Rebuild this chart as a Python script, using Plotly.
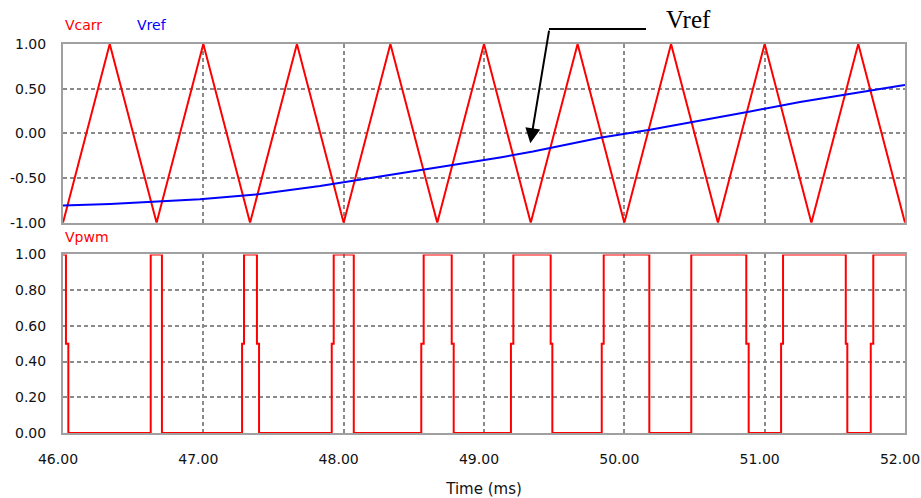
import plotly.graph_objects as go
from plotly.subplots import make_subplots

# ---- data ----
carrier_t = [46.0, 46.333, 46.667, 47.0, 47.333, 47.667, 48.0, 48.333, 48.667,
             49.0, 49.333, 49.667, 50.0, 50.333, 50.667, 51.0, 51.333, 51.667, 52.0]
carrier_v = [-1, 1, -1, 1, -1, 1, -1, 1, -1, 1, -1, 1, -1, 1, -1, 1, -1, 1, -1]

vref_t = [46.0, 46.335, 46.976, 47.404, 47.831, 48.401, 48.758, 49.114, 49.349,
          49.591, 49.827, 50.183, 50.539, 50.896, 51.252, 51.608, 51.964, 52.0]
vref_v = [-0.807, -0.790, -0.738, -0.680, -0.590, -0.446, -0.364, -0.270, -0.204,
          -0.125, -0.050, 0.040, 0.140, 0.245, 0.350, 0.445, 0.533, 0.540]

# PWM edges (ms): falling edges 1 -> 0.5 -> 0, rising edges 0 -> 0.5 -> 1
pwm_fall_hi = [46.021, 46.705, 47.382, 48.072, 48.770, 49.475, 50.178, 50.869, 51.578]
pwm_fall_lo = [46.038, 46.705, 47.397, 48.072, 48.784, 49.487, 50.178, 50.886, 51.589]
pwm_rise_lo = [46.625, 47.276, 47.915, 48.553, 49.192, 49.839, 50.477, 51.117, 51.756]
pwm_rise_hi = [46.625, 47.290, 47.929, 48.570, 49.209, 49.853, 50.477, 51.131, 51.774]
pwm_start, pwm_end = 46.0, 52.0

x_ticks = [46, 47, 48, 49, 50, 51, 52]
x_ticktext = ["46.00", "47.00", "48.00", "49.00", "50.00", "51.00", "52.00"]
y1_ticks = [-1.0, -0.5, 0.0, 0.5, 1.0]
y1_ticktext = ["-1.00", "-0.50", "0.00", "0.50", "1.00"]
y2_ticks = [0.0, 0.2, 0.4, 0.6, 0.8, 1.0]
y2_ticktext = ["0.00", "0.20", "0.40", "0.60", "0.80", "1.00"]

# build the PWM polyline
pwm_t, pwm_v = [pwm_start], [1.0]
for fh, fl, rl, rh in zip(pwm_fall_hi, pwm_fall_lo, pwm_rise_lo, pwm_rise_hi):
    pwm_t += [fh, fh, fl, fl, rl, rl, rh, rh]
    pwm_v += [1.0, 0.5, 0.5, 0.0, 0.0, 0.5, 0.5, 1.0]
pwm_t.append(pwm_end)
pwm_v.append(1.0)

RED = "#ff0000"
BLUE = "#0000ff"
FRAME = "#a0a0a0"
GRID = "#8a8a8a"
TICKFONT = dict(family="DejaVu Sans, Liberation Sans, Arial", size=14, color="#111111")

fig = make_subplots(rows=2, cols=1, shared_xaxes=True, vertical_spacing=0.0)

fig.add_trace(go.Scatter(x=carrier_t, y=carrier_v, mode="lines",
                         line=dict(color=RED, width=2), name="Vcarr"), row=1, col=1)
fig.add_trace(go.Scatter(x=vref_t, y=vref_v, mode="lines",
                         line=dict(color=BLUE, width=2), name="Vref"), row=1, col=1)
fig.add_trace(go.Scatter(x=pwm_t, y=pwm_v, mode="lines",
                         line=dict(color=RED, width=2), name="Vpwm"), row=2, col=1)

axis_common = dict(showline=True, mirror=True, linecolor=FRAME, linewidth=2,
                   showgrid=True, gridcolor=GRID, gridwidth=1.5, griddash="4px,3px",
                   zeroline=False, ticks="outside", tickcolor="rgba(0,0,0,0)",
                   tickfont=TICKFONT, automargin=False)

fig.update_xaxes(range=[46, 52], tickvals=x_ticks, ticktext=x_ticktext, ticklen=12,
                 ticklabeloverflow="allow", ticklabelshift=-5, **axis_common)
fig.update_xaxes(showticklabels=False, row=1, col=1)
fig.update_yaxes(range=[-1, 1], tickvals=y1_ticks, ticktext=y1_ticktext, ticklen=12,
                 row=1, col=1, **axis_common)
fig.update_yaxes(range=[0, 1], tickvals=y2_ticks, ticktext=y2_ticktext, ticklen=12,
                 row=2, col=1, **axis_common)

fig.update_layout(
    yaxis=dict(domain=[0.5406, 1.0]),
    yaxis2=dict(domain=[0.0, 0.459]),
    width=921, height=498,
    margin=dict(l=63, r=16, t=44, b=65),
    paper_bgcolor="white", plot_bgcolor="white",
    showlegend=False, hovermode=False,
)

fig.update_xaxes(title=dict(text="Time (ms)", font=dict(family="DejaVu Sans, Arial", size=15, color="#111111"),
                            standoff=18), row=2, col=1)

label_font = dict(family="DejaVu Sans, Arial", size=14)
fig.add_annotation(text="Vcarr", xref="paper", yref="paper", x=0.0, y=1.049,
                   xanchor="left", yanchor="middle", showarrow=False,
                   font=dict(color=RED, **label_font))
fig.add_annotation(text="Vref", xref="paper", yref="paper", x=0.0855, y=1.049,
                   xanchor="left", yanchor="middle", showarrow=False,
                   font=dict(color=BLUE, **label_font))
fig.add_annotation(text="Vpwm", xref="paper", yref="paper", x=0.0, y=0.5045,
                   xanchor="left", yanchor="middle", showarrow=False,
                   font=dict(color=RED, **label_font))

# callout "Vref" with leader line and arrow
fig.add_annotation(text="Vref", xref="paper", yref="paper", x=0.7138, y=1.062,
                   xanchor="left", yanchor="middle", showarrow=False,
                   font=dict(family="Liberation Serif, Times New Roman", size=25, color="black"))
fig.add_shape(type="line", xref="paper", yref="paper", x0=0.5772, x1=0.6924,
              y0=1.0386, y1=1.0386, line=dict(color="black", width=2))
fig.add_annotation(text="", x=49.33, y=-0.11, xref="x", yref="y",
                   ax=19, ay=-114, showarrow=True, arrowhead=2, arrowsize=1.5,
                   arrowwidth=2, arrowcolor="black")

fig.write_html("out.html")
